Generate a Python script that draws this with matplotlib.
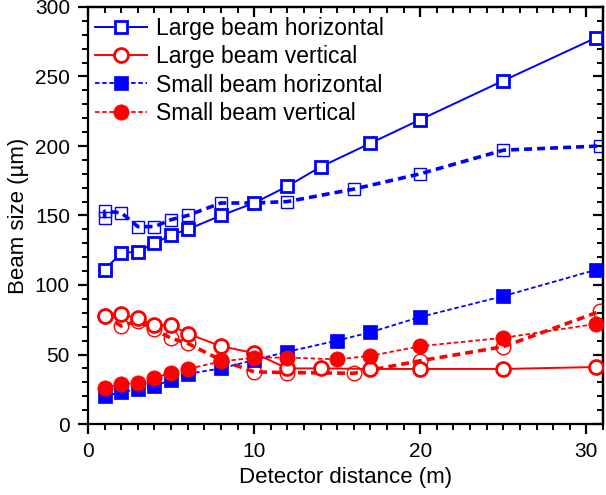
import matplotlib
matplotlib.use("Agg")
import matplotlib.pyplot as plt
from matplotlib.ticker import MultipleLocator

plt.rcParams['font.family'] = ['Liberation Sans', 'DejaVu Sans']

# Large beam horizontal
x_lh = [1, 2, 3, 4, 5, 6, 8, 10, 12, 14, 17, 20, 25, 30.6]
y_lh = [111, 123, 124, 130, 136, 140, 150, 159, 171, 185, 202, 219, 247, 278]
# Large beam vertical
x_lv = [1, 2, 3, 4, 5, 6, 8, 10, 12, 14, 17, 20, 25, 30.6]
y_lv = [78, 79, 76, 71, 71, 65, 56, 51, 40, 40, 39.6, 39.6, 39.6, 41]
# Small beam horizontal
x_sh = [1, 2, 3, 4, 5, 6, 8, 10, 12, 15, 17, 20, 25, 30.6]
y_sh = [20, 23, 25, 27, 32, 36, 40, 46, 52, 60, 66, 77, 92, 111]
# Small beam vertical
x_sv = [1, 2, 3, 4, 5, 6, 8, 10, 12, 15, 17, 20, 25, 30.6]
y_sv = [26, 28.6, 29.7, 33, 37, 39.6, 45, 47.7, 47.8, 46.5, 49, 56, 62, 72]
# Unlabeled horizontal (thin open squares, thick dashed)
x_uh = [1, 1, 2, 3, 4, 5, 6, 8, 10, 12, 16, 20, 25, 30.8]
y_uh = [148, 153, 152, 142, 142, 147, 150, 159, 159, 160, 169, 180, 197, 200]
# Unlabeled vertical (thin open circles, thick dashed)
x_uv = [1, 2, 3, 4, 5, 6, 8, 10, 12, 16, 20, 25, 30.8]
y_uv = [78, 70.5, 74, 68, 61.7, 58, 46, 37.5, 37, 36.5, 45.5, 55.6, 81]

labels = ["Large beam horizontal", "Large beam vertical",
          "Small beam horizontal", "Small beam vertical"]

blue = "#0000ff"
red = "#ff0000"

fig = plt.figure(figsize=(6.06, 4.95), dpi=100)
ax = fig.add_axes([88/606, 1-424/495, (603-88)/606, (424-7)/495])

ax.plot(x_uh, y_uh, color=blue, lw=2.6, ls=(0, (2.2, 1.4)), marker='s', ms=9,
        mfc='none', mec=blue, mew=1.0, zorder=2)
ax.plot(x_uv, y_uv, color=red, lw=2.6, ls=(0, (2.2, 1.4)), marker='o', ms=10.5,
        mfc='none', mec=red, mew=1.0, zorder=2)

ax.plot(x_lh, y_lh, color=blue, lw=1.4, ls='-', marker='s', ms=8.5,
        mfc='white', mec=blue, mew=2.0, label=labels[0], zorder=3)
ax.plot(x_lv, y_lv, color=red, lw=1.4, ls='-', marker='o', ms=10,
        mfc='white', mec=red, mew=2.0, label=labels[1], zorder=3)
ax.plot(x_sh, y_sh, color=blue, lw=1.3, ls=(0, (2.5, 1.5)), marker='s', ms=9.5,
        mfc=blue, mec=blue, mew=0.5, label=labels[2], zorder=4)
ax.plot(x_sv, y_sv, color=red, lw=1.3, ls=(0, (2.5, 1.5)), marker='o', ms=11,
        mfc=red, mec=red, mew=0.5, label=labels[3], zorder=5)

ax.set_xlim(0, 31)
ax.set_ylim(0, 300)
ax.xaxis.set_major_locator(MultipleLocator(10))
ax.xaxis.set_minor_locator(MultipleLocator(1))
ax.yaxis.set_major_locator(MultipleLocator(50))
ax.yaxis.set_minor_locator(MultipleLocator(10))

for s in ax.spines.values():
    s.set_linewidth(1.6)

ax.tick_params(which='major', direction='out', length=7, width=1.6, labelsize=15, pad=6)
ax.tick_params(which='minor', direction='out', length=4, width=1.4)

secx = ax.secondary_xaxis('top')
secx.xaxis.set_major_locator(MultipleLocator(10))
secx.xaxis.set_minor_locator(MultipleLocator(1))
secx.tick_params(which='major', direction='in', length=7, width=1.6, labeltop=False)
secx.tick_params(which='minor', direction='in', length=4, width=1.4)
secx.spines['top'].set_linewidth(1.6)

secy = ax.secondary_yaxis('right')
secy.yaxis.set_major_locator(MultipleLocator(50))
secy.yaxis.set_minor_locator(MultipleLocator(10))
secy.tick_params(which='major', direction='in', length=7, width=1.6, labelright=False)
secy.tick_params(which='minor', direction='in', length=4, width=1.4)
secy.spines['right'].set_linewidth(1.6)

ax.set_xlabel("Detector distance (m)", fontsize=16, labelpad=4)
ax.set_ylabel("Beam size (µm)", fontsize=16, labelpad=4)

ax.legend(loc='upper left', frameon=False, fontsize=16.5, handlelength=2.3,
          handletextpad=0.4, labelspacing=0.22, borderaxespad=0.0,
          bbox_to_anchor=(-0.005, 0.997))

fig.savefig("out.png", dpi=100)
